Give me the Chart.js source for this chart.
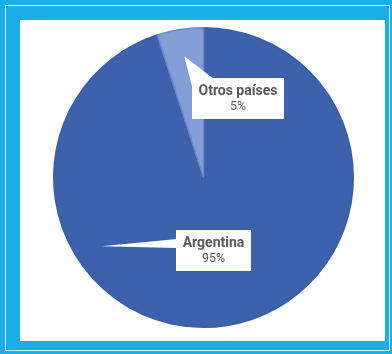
<!DOCTYPE html>
<html>
<head>
<meta charset="utf-8">
<script src="https://cdn.jsdelivr.net/npm/chart.js@4/dist/chart.umd.min.js"></script>
<style>
  html, body { margin: 0; padding: 0; }
  body { width: 392px; height: 354px; background: #1aaee6; position: relative; overflow: hidden; }
  #line { position: absolute; left: 5px; top: 5px; right: 2px; bottom: 3px; border: 1px solid #d2f0fc; }
  #box { position: absolute; left: 20px; top: 20px; width: 365px; height: 321px; background: #fff; }
</style>
</head>
<body>
<div id="line"></div>
<div id="box"><canvas id="c"></canvas></div>
<script>
  const categories = ['Argentina', 'Otros países'];
  const shares = [95, 5];
  const sliceColors = ['#3c62ae', '#839dd6'];

  // callout placement: where the pointer tip sits in the slice, and where the box sits
  const callouts = [
    { at: 0.69, r: 0.82, dx: 10, dy: 73 },
    { at: 0.5, r: 0.82, dx: 34, dy: -79 }
  ];

  const calloutPlugin = {
    id: 'callouts',
    afterDraw(chart) {
      const ctx = chart.ctx;
      const arcs = chart.getDatasetMeta(0).data;
      arcs.forEach(function (arc, i) {
        const c = callouts[i];
        const p = arc.getProps(['x', 'y', 'startAngle', 'endAngle', 'outerRadius'], true);
        const a = p.startAngle + (p.endAngle - p.startAngle) * c.at;
        const tx = p.x + Math.cos(a) * p.outerRadius * c.r;
        const ty = p.y + Math.sin(a) * p.outerRadius * c.r;

        ctx.save();
        ctx.font = 'bold 14px Roboto';
        const w1 = ctx.measureText(categories[i]).width;
        const w = Math.round(w1 + 13);
        const h = 41;
        const bx = Math.round(p.x + c.dx - w / 2);
        const by = Math.round(p.y + c.dy - h / 2);

        ctx.fillStyle = '#ffffff';
        ctx.beginPath();
        ctx.moveTo(tx, ty);
        if (tx < bx && ty > by) {
          ctx.lineTo(bx + 1, by + 9);
          ctx.lineTo(bx + 1, by + 18);
        } else {
          ctx.lineTo(bx + 22, by + 1);
          ctx.lineTo(bx + 1, by + 12);
        }
        ctx.closePath();
        ctx.fill();
        ctx.fillRect(bx, by, w, h);

        ctx.fillStyle = '#595959';
        ctx.textAlign = 'center';
        ctx.textBaseline = 'middle';
        ctx.fillText(categories[i], bx + w / 2, by + 13);
        ctx.font = '12.5px Roboto';
        ctx.fillText(shares[i] + '%', bx + w / 2, by + 29);
        ctx.restore();
      });
    }
  };

  new Chart(document.getElementById('c'), {
    type: 'pie',
    data: {
      labels: categories,
      datasets: [{
        data: shares,
        backgroundColor: sliceColors,
        borderColor: ['#3a5ea6', '#6b88c8'],
        borderWidth: 1.5
      }]
    },
    options: {
      responsive: true,
      maintainAspectRatio: false,
      animation: false,
      layout: { padding: { top: 7, bottom: 13, left: 2, right: 0 } },
      plugins: { legend: { display: false }, tooltip: { enabled: false } }
    },
    plugins: [calloutPlugin]
  });
</script>
</body>
</html>
